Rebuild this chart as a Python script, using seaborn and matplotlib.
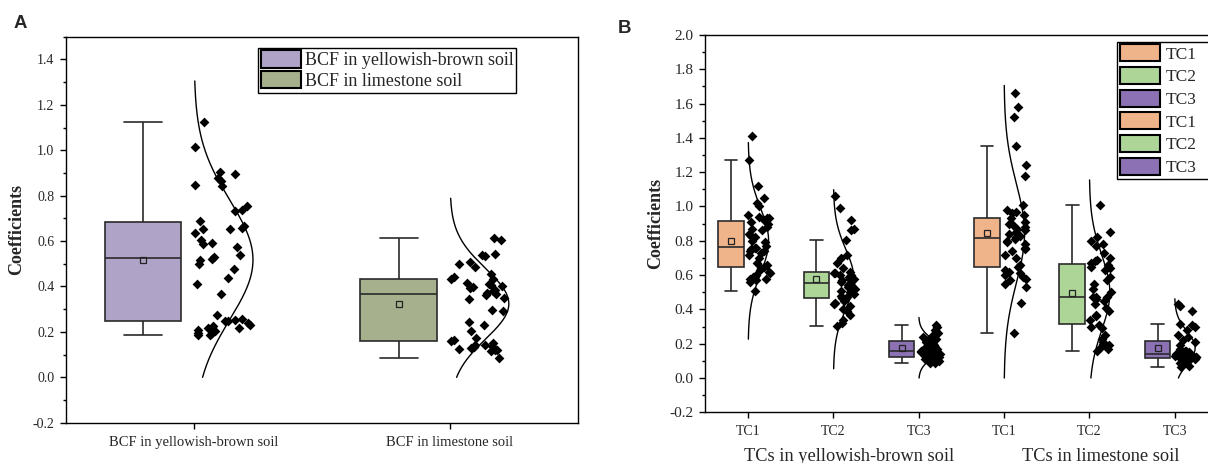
import numpy as np
import pandas as pd
import matplotlib
matplotlib.use("Agg")
import matplotlib.pyplot as plt
import seaborn as sns
from matplotlib.patches import Patch
from matplotlib.ticker import MultipleLocator, FormatStrFormatter

# ---------------- data ----------------
a_categories = ["BCF in yellowish-brown soil", "BCF in limestone soil"]
bcf_yellowish_brown = [1.125, 1.013, 0.904, 0.897, 0.879, 0.865, 0.847, 0.844, 0.756, 0.738,
                       0.732, 0.690, 0.668, 0.659, 0.654, 0.654, 0.634, 0.604, 0.590, 0.585,
                       0.572, 0.537, 0.531, 0.522, 0.516, 0.501, 0.475, 0.438, 0.413, 0.369,
                       0.276, 0.256, 0.254, 0.249, 0.247, 0.237, 0.231, 0.226, 0.218, 0.215,
                       0.207, 0.203, 0.197, 0.193, 0.188, 0.185]
bcf_limestone = [0.615, 0.604, 0.541, 0.537, 0.535, 0.509, 0.501, 0.487, 0.454, 0.443,
                 0.435, 0.431, 0.415, 0.410, 0.406, 0.401, 0.396, 0.392, 0.384, 0.381,
                 0.372, 0.369, 0.362, 0.350, 0.347, 0.296, 0.291, 0.243, 0.229, 0.203,
                 0.175, 0.166, 0.160, 0.151, 0.144, 0.141, 0.138, 0.134, 0.128, 0.126,
                 0.122, 0.119, 0.116, 0.085]
a_colors = ["#AFA4C8", "#A7B08D"]

b_tick_labels = ["TC1", "TC2", "TC3", "TC1", "TC2", "TC3"]
b_group_labels = ["TCs in yellowish-brown soil", "TCs in limestone soil"]
tc1_yb = [1.41, 1.27, 1.12, 1.05, 1.02, 1.00, 0.95, 0.94, 0.93, 0.93, 0.92, 0.91, 0.90, 0.88,
          0.87, 0.86, 0.84, 0.83, 0.82, 0.80, 0.79, 0.77, 0.76, 0.76, 0.75, 0.74, 0.74, 0.73,
          0.72, 0.70, 0.67, 0.66, 0.65, 0.64, 0.63, 0.62, 0.61, 0.60, 0.59, 0.58, 0.58, 0.57,
          0.56, 0.51]
tc2_yb = [1.06, 0.99, 0.92, 0.87, 0.86, 0.807, 0.72, 0.70, 0.67, 0.64, 0.62, 0.615, 0.61, 0.60,
          0.60, 0.59, 0.58, 0.58, 0.57, 0.56, 0.56, 0.55, 0.54, 0.54, 0.53, 0.52, 0.51, 0.50,
          0.49, 0.48, 0.47, 0.468, 0.45, 0.44, 0.43, 0.42, 0.40, 0.39, 0.37, 0.34, 0.32, 0.305]
tc3_yb = [0.31, 0.30, 0.28, 0.26, 0.25, 0.25, 0.24, 0.23, 0.22, 0.22, 0.21, 0.20, 0.19, 0.18,
          0.18, 0.17, 0.17, 0.16, 0.16, 0.16, 0.15, 0.15, 0.15, 0.14, 0.14, 0.14, 0.13, 0.13,
          0.12, 0.12, 0.12, 0.12, 0.11, 0.11, 0.10, 0.10, 0.09, 0.085]
tc1_ls = [1.66, 1.58, 1.52, 1.35, 1.24, 1.18, 1.01, 0.98, 0.97, 0.96, 0.95, 0.93, 0.91, 0.90,
          0.89, 0.88, 0.87, 0.86, 0.85, 0.84, 0.83, 0.82, 0.81, 0.80, 0.79, 0.78, 0.76, 0.75,
          0.74, 0.72, 0.70, 0.66, 0.65, 0.63, 0.62, 0.61, 0.60, 0.59, 0.58, 0.57, 0.55, 0.53,
          0.44, 0.26]
tc2_ls = [1.01, 0.85, 0.82, 0.80, 0.78, 0.77, 0.73, 0.70, 0.69, 0.68, 0.67, 0.66, 0.65, 0.64,
          0.63, 0.59, 0.57, 0.55, 0.52, 0.50, 0.475, 0.472, 0.47, 0.46, 0.45, 0.43, 0.41, 0.39,
          0.37, 0.36, 0.34, 0.31, 0.30, 0.29, 0.25, 0.23, 0.21, 0.20, 0.19, 0.18, 0.17, 0.16]
tc3_ls = [0.43, 0.42, 0.39, 0.317, 0.31, 0.30, 0.28, 0.25, 0.24, 0.22, 0.21, 0.19, 0.17, 0.16,
          0.16, 0.15, 0.15, 0.15, 0.14, 0.14, 0.14, 0.14, 0.13, 0.13, 0.13, 0.12, 0.12, 0.12,
          0.12, 0.11, 0.11, 0.11, 0.10, 0.10, 0.09, 0.09, 0.08, 0.07, 0.066]
b_colors = ["#F0B48A", "#ADD597", "#8C72B4", "#F0B48A", "#ADD597", "#8C72B4"]

# ---------------- style ----------------
sns.set_style("ticks")
plt.rcParams["font.family"] = ["Liberation Serif", "DejaVu Serif"]
plt.rcParams["axes.unicode_minus"] = False
plt.rcParams["axes.linewidth"] = 1.0
SERIF = "Liberation Serif"
SANS = "Liberation Sans"


def raincloud(ax, series, colors, box_off, box_w, strip_off, jit, curve_w, msize):
    pos = np.arange(1, len(series) + 1)
    rows = []
    for i, vals in enumerate(series):
        for v in vals:
            rows.append((str(i), pos[i] + box_off, pos[i] + strip_off, v))
    df = pd.DataFrame(rows, columns=["gid", "bpos", "spos", "value"])
    pal = {str(i): c for i, c in enumerate(colors)}
    sns.boxplot(data=df, x="bpos", y="value", hue="gid", palette=pal, native_scale=True,
                dodge=False, width=box_w, saturation=1, showfliers=False, showmeans=True,
                meanprops=dict(marker="s", markerfacecolor="none", markeredgecolor="#222222",
                               markersize=4, markeredgewidth=0.9),
                linecolor="#2a2a2a", linewidth=1.2, legend=False, ax=ax)
    np.random.seed(11)
    sns.stripplot(data=df, x="spos", y="value", native_scale=True, jitter=jit, marker="D",
                  color="black", size=msize, linewidth=0, ax=ax)
    for i, vals in enumerate(series):
        m = np.mean(vals)
        s = np.std(vals, ddof=1)
        y = np.linspace(max(0.0, m - 3 * s), m + 3 * s, 300)
        pdf = np.exp(-0.5 * ((y - m) / s) ** 2)
        ax.plot(pos[i] + curve_w * pdf, y, color="black", lw=1.0)
    return pos


def style_axis(ax, ylo, yhi, ytick_size):
    ax.set_ylim(ylo, yhi)
    ax.yaxis.set_major_locator(MultipleLocator(0.2))
    ax.yaxis.set_minor_locator(MultipleLocator(0.1))
    ax.yaxis.set_major_formatter(FormatStrFormatter("%.1f"))
    ax.tick_params(axis="both", which="major", direction="out", length=4.5, width=1.0,
                   top=False, right=False, color="black")
    ax.tick_params(axis="y", which="minor", direction="out", length=2.5, width=1.0,
                   right=False, color="black")
    ax.tick_params(axis="x", which="minor", bottom=False, top=False)
    ax.tick_params(axis="y", labelsize=ytick_size, pad=4)
    for sp in ax.spines.values():
        sp.set_visible(True)
        sp.set_color("black")
        sp.set_linewidth(1.0)
    for lab in ax.get_yticklabels():
        lab.set_fontfamily(SERIF)
    ax.set_xlabel("")
    ax.set_ylabel("Coefficients", fontfamily=SERIF, fontweight="bold", fontsize=13)


fig = plt.figure(figsize=(12.08, 4.63), dpi=100)

# ---------------- panel A ----------------
axA = fig.add_axes([0.0548, 0.087, 0.4236, 0.8337])
posA = raincloud(axA, [bcf_yellowish_brown, bcf_limestone], a_colors,
                 box_off=-0.2, box_w=0.3, strip_off=0.11, jit=0.11, curve_w=0.23, msize=5)
axA.set_xlim(0.5, 2.5)
axA.set_xticks(posA)
axA.set_xticklabels(a_categories, fontfamily=SERIF, fontsize=10.5)
style_axis(axA, -0.2, 1.5, 10)
axA.tick_params(axis="x", pad=5)
axA.yaxis.set_label_coords(-0.080, 0.5)
hA = [Patch(facecolor=c, edgecolor="black", linewidth=1.5) for c in a_colors]
legA = axA.legend(hA, a_categories, loc="upper left", bbox_to_anchor=(0.375, 0.9715),
                  borderaxespad=0, frameon=True, fancybox=False, framealpha=1,
                  edgecolor="black", prop={"family": SERIF, "size": 13},
                  handlelength=2.2, handleheight=1.1, labelspacing=0.1,
                  borderpad=0.15, handletextpad=0.25)
legA.get_frame().set_linewidth(1.0)

# ---------------- panel B ----------------
axB = fig.add_axes([0.584, 0.1095, 0.4237, 0.815])
posB = raincloud(axB, [tc1_yb, tc2_yb, tc3_yb, tc1_ls, tc2_ls, tc3_ls], b_colors,
                 box_off=-0.2, box_w=0.3, strip_off=0.13, jit=0.13, curve_w=0.24, msize=5)
axB.set_xlim(0.5, 6.5)
axB.set_xticks(posB)
axB.set_xticklabels(b_tick_labels, fontfamily=SERIF, fontsize=10)
style_axis(axB, -0.2, 2.0, 11)
axB.tick_params(axis="x", pad=5)
axB.yaxis.set_label_coords(-0.081, 0.5)
for xg, txt in zip([2.18, 5.13], b_group_labels):
    axB.text(xg, -0.129, txt, transform=axB.get_xaxis_transform(), ha="center",
             va="baseline", fontfamily=SERIF, fontsize=13.2)
hB = [Patch(facecolor=c, edgecolor="black", linewidth=1.5) for c in b_colors]
legB = axB.legend(hB, b_tick_labels, loc="upper left", bbox_to_anchor=(0.805, 0.0, 0.19, 0.982),
                  mode="expand", borderaxespad=0, frameon=True, fancybox=False, framealpha=1,
                  edgecolor="black", prop={"family": SERIF, "size": 12.5},
                  handlelength=2.27, handleheight=1.12, labelspacing=0.25,
                  borderpad=0.15, handletextpad=0.33)
legB.get_frame().set_linewidth(1.0)

# panel letters
fig.text(0.0166, 0.950, "A", fontfamily=SANS, fontweight="bold", fontsize=13.4,
         ha="center", va="center")
fig.text(0.5166, 0.9395, "B", fontfamily=SANS, fontweight="bold", fontsize=13.4,
         ha="center", va="center")

fig.savefig("out.png", dpi=100)
